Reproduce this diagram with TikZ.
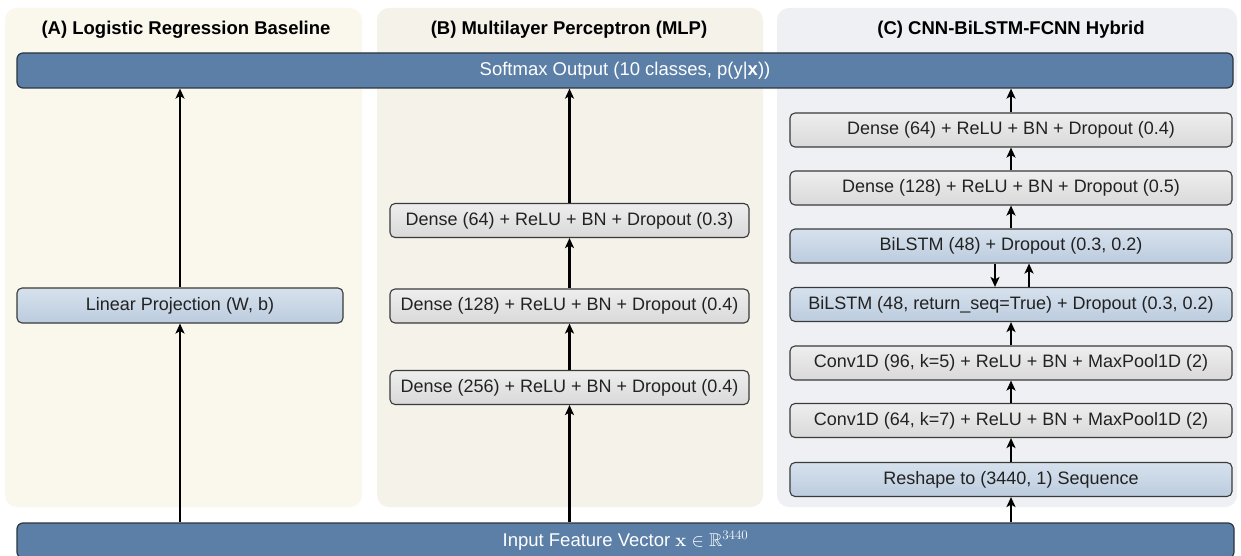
\RequirePackage{fix-cm}
\documentclass[tikz,border=0pt]{standalone}
\usepackage{amssymb}
\usepackage[no-math]{fontspec}
\setmainfont{Liberation Sans}
\usetikzlibrary{arrows.meta}
\DeclareMathSizes{18.5}{18.5}{13}{10}
\definecolor{panelA}{HTML}{FAF7EC}
\definecolor{panelB}{HTML}{F5F2EA}
\definecolor{panelC}{HTML}{EEF0F3}
\definecolor{barblue}{HTML}{5B7FA6}
\definecolor{barborder}{HTML}{2B3440}
\definecolor{boxborder}{HTML}{3A3A3A}
\definecolor{graytop}{HTML}{EEEEEE}
\definecolor{graybot}{HTML}{D9D9D9}
\definecolor{bluetop}{HTML}{D6E1ED}
\definecolor{bluebot}{HTML}{BCCCDE}
\definecolor{txt}{HTML}{222222}
\tikzset{
  layerbox/.style={rounded corners=5pt, draw=boxborder, line width=1.1pt, inner sep=0pt,
    text=txt, font=\fontsize{18}{20}\selectfont, minimum height=34pt},
  graybox/.style={layerbox, top color=graytop, bottom color=graybot},
  bluebox/.style={layerbox, top color=bluetop, bottom color=bluebot},
  barbox/.style={rounded corners=6pt, draw=barborder, line width=1.2pt, fill=barblue,
    text=white, inner sep=0pt, font=\fontsize{18.5}{20}\selectfont},
  panel/.style={rounded corners=12pt, draw=none, inner sep=0pt, minimum height=499pt},
  ptitle/.style={font=\bfseries\fontsize{18.5}{20}\selectfont, text=black},
  flow/.style={-{Stealth[length=10pt,width=9pt,inset=2.5pt]}, line width=2.2pt, black},
}
\begin{document}
\begin{tikzpicture}[x=1pt,y=-1pt]
\useasboundingbox (0,0) rectangle (1241,556);
\fill[white] (0,0) rectangle (1241,556);
% panels
\node[panel, fill=panelA, minimum width=357pt] (pA) at (183.5,257.5) {};
\node[panel, fill=panelB, minimum width=386pt] (pB) at (570,257.5) {};
\node[panel, fill=panelC, minimum width=460pt] (pC) at (1007,257.5) {};
% titles
\node[ptitle] (tA) at (186,30) {(A) Logistic Regression Baseline};
\node[ptitle] (tB) at (569,30) {(B) Multilayer Perceptron (MLP)};
\node[ptitle] (tC) at (1011,30) {(C) CNN-BiLSTM-FCNN Hybrid};
% bars
\node[barbox, minimum width=1216pt, minimum height=35pt] (soft) at (625,70.5)
  {Softmax Output (10 classes, p(y|\textbf{x}))};
\node[barbox, minimum width=1217pt, minimum height=35pt] (inp) at (625.5,540.5)
  {Input Feature Vector $\mathbf{x} \in \mathbb{R}^{3440}$};
% panel A
\node[bluebox, minimum width=326pt, minimum height=35pt] (lp) at (180,305.5) {Linear Projection (W, b)};
% panel B
\node[graybox, minimum width=359pt] (b256) at (569.5,387.5) {Dense (256) + ReLU + BN + Dropout (0.4)};
\node[graybox, minimum width=359pt] (b128) at (569.5,306) {Dense (128) + ReLU + BN + Dropout (0.4)};
\node[graybox, minimum width=359pt] (b64) at (569.5,220.5) {Dense (64) + ReLU + BN + Dropout (0.3)};
% panel C
\node[bluebox, minimum width=442pt] (rs) at (1011,479.5) {Reshape to (3440, 1) Sequence};
\node[graybox, minimum width=442pt] (cv64) at (1011,420.5) {Conv1D (64, k=7) + ReLU + BN + MaxPool1D (2)};
\node[graybox, minimum width=442pt] (cv96) at (1011,363) {Conv1D (96, k=5) + ReLU + BN + MaxPool1D (2)};
\node[bluebox, minimum width=442pt] (bl1) at (1011,304.5) {BiLSTM (48, return\_seq=True) + Dropout (0.3, 0.2)};
\node[bluebox, minimum width=442pt] (bl2) at (1011,246) {BiLSTM (48) + Dropout (0.3, 0.2)};
\node[graybox, minimum width=442pt] (c128) at (1011,188) {Dense (128) + ReLU + BN + Dropout (0.5)};
\node[graybox, minimum width=442pt] (c64) at (1011,130) {Dense (64) + ReLU + BN + Dropout (0.4)};
% arrows A
\draw[flow] (lp.south |- inp.north) -- (lp.south);
\draw[flow] (lp.north) -- (lp.north |- soft.south);
% arrows B
\draw[flow] (b256.south |- inp.north) -- (b256.south);
\draw[flow] (b256.north) -- (b128.south);
\draw[flow] (b128.north) -- (b64.south);
\draw[flow] (b64.north) -- (b64.north |- soft.south);
% arrows C
\draw[flow] (rs.south |- inp.north) -- (rs.south);
\draw[flow] (rs.north) -- (cv64.south);
\draw[flow] (cv64.north) -- (cv96.south);
\draw[flow] (cv96.north) -- (bl1.south);
\draw[flow] ([xshift=-16pt]bl2.south) -- ([xshift=-16pt]bl1.north);
\draw[flow] ([xshift=18pt]bl1.north) -- ([xshift=18pt]bl2.south);
\draw[flow] (bl2.north) -- (c128.south);
\draw[flow] (c128.north) -- (c64.south);
\draw[flow] (c64.north) -- (c64.north |- soft.south);
\end{tikzpicture}
\end{document}
